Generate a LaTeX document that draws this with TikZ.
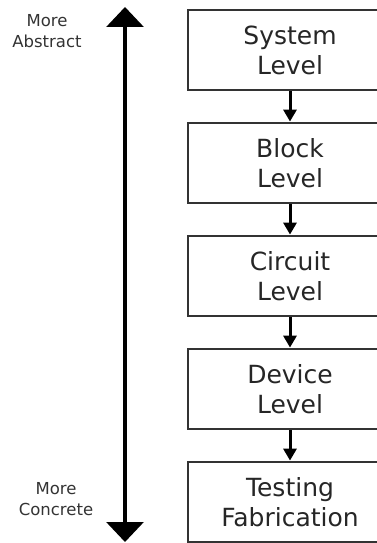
\documentclass[tikz,border=0pt]{standalone}
\usepackage{fontspec}
\setmainfont{DejaVu Sans}
\usetikzlibrary{arrows.meta,positioning}

\begin{document}
\begin{tikzpicture}[
  x=1pt, y=1pt,
  stage/.style={draw=black!80, line width=2.8pt, minimum width=204pt, minimum height=80pt, align=center, font=\fontsize{25}{30}\selectfont, text=black!85},
  side/.style={align=center, font=\fontsize{16.5}{21}\selectfont, text=black!80},
  flow/.style={line width=3pt, -{Triangle[width=13pt,length=12pt]}}
]
\useasboundingbox (0,0) rectangle (377,-543);
\node[stage] (sys) at (290,-50) {System\\Level};
\node[stage] (blk) at (290,-163) {Block\\Level};
\node[stage] (cir) at (290,-276) {Circuit\\Level};
\node[stage] (dev) at (290,-389) {Device\\Level};
\node[stage] (fab) at (290,-502) {Testing\\Fabrication};
\draw[flow] (sys) -- (blk);
\draw[flow] (blk) -- (cir);
\draw[flow] (cir) -- (dev);
\draw[flow] (dev) -- (fab);
% abstraction axis
\coordinate (abs) at (125,-7);
\coordinate (con) at (125,-542);
\draw[line width=3.2pt, {Triangle[width=37pt,length=20pt]}-{Triangle[width=37pt,length=20pt]}] (abs) -- (con);
\node[side] (moreabs) at (47,-31) {More\\Abstract};
\node[side] (morecon) at (56,-499) {More\\Concrete};
\end{tikzpicture}
\end{document}
